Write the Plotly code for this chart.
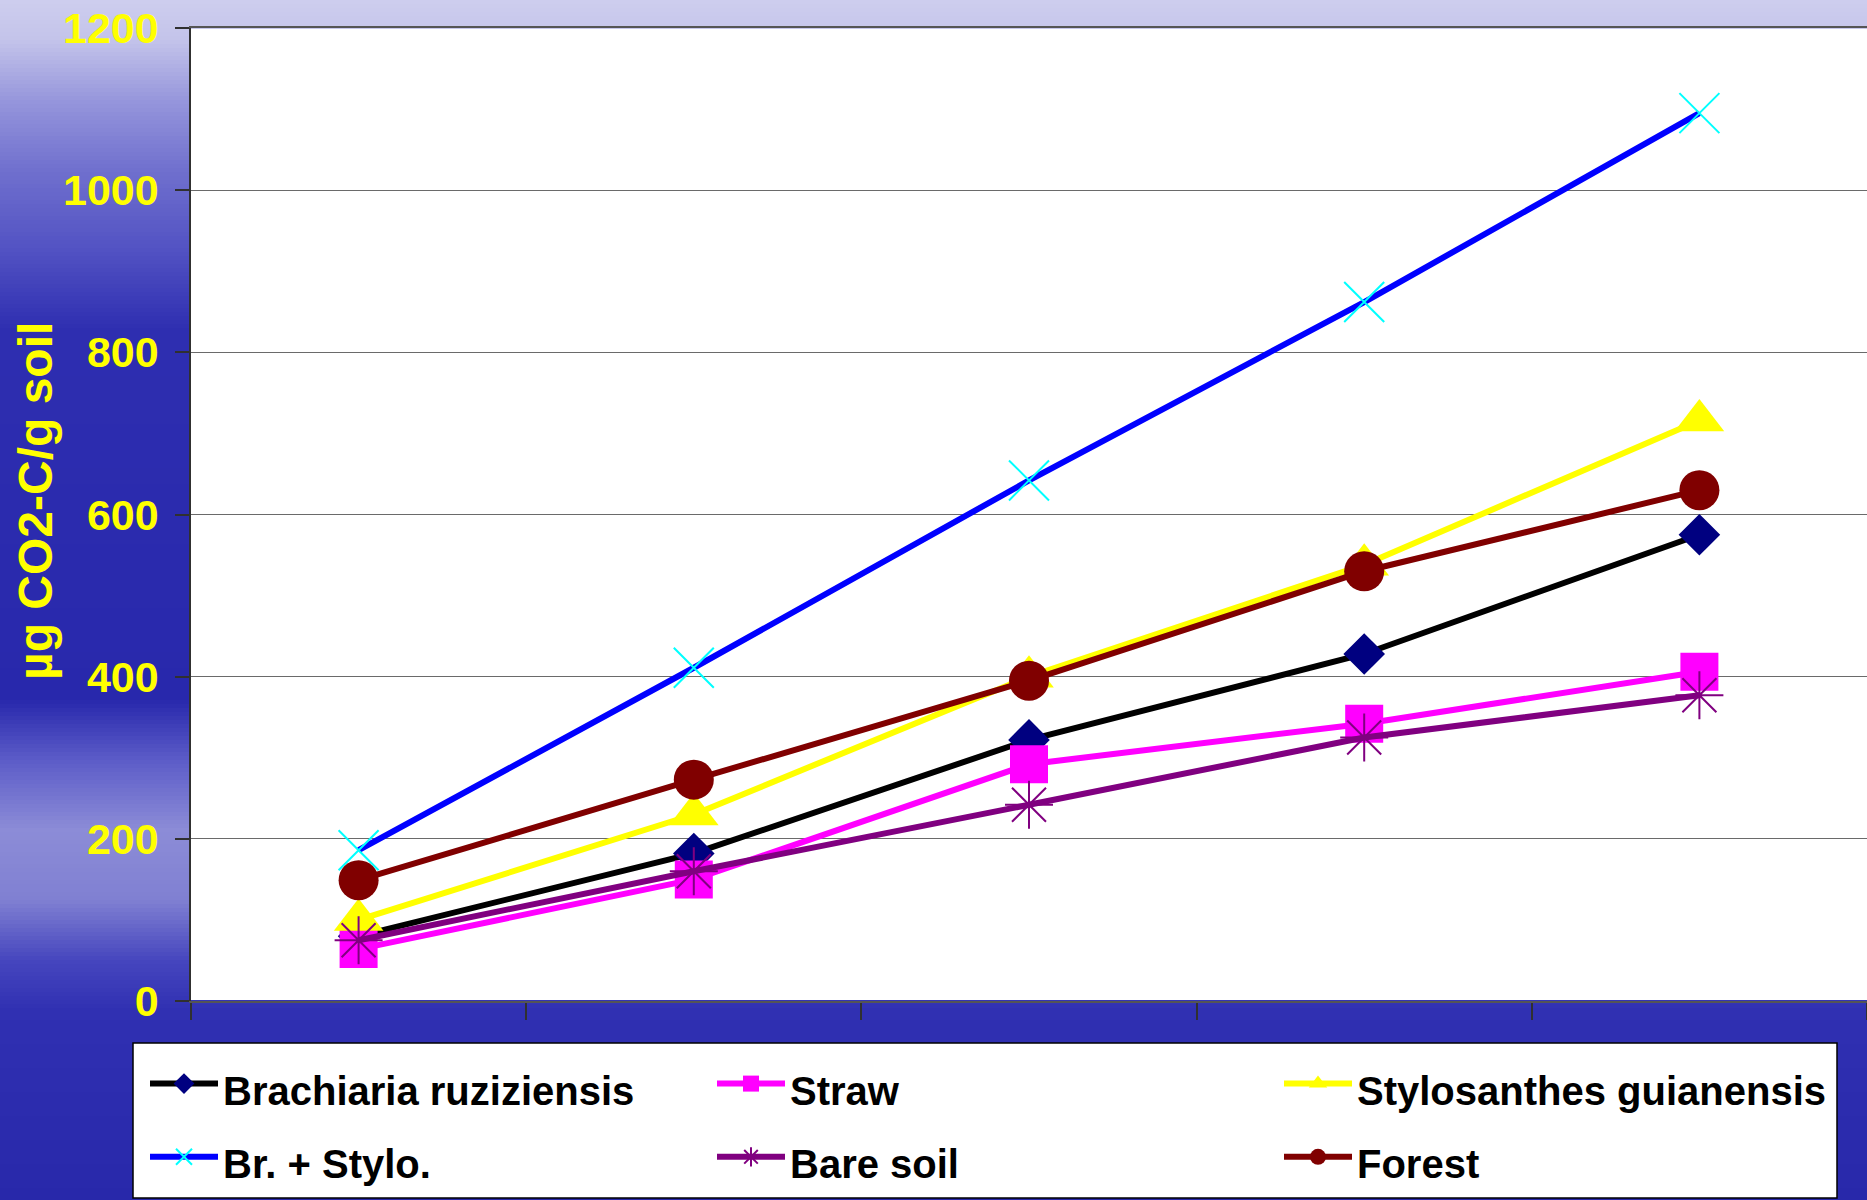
import plotly.graph_objects as go

# Sampling days (no x labels are shown on the original chart)
DAYS = ["1", "2", "3", "4", "5"]

BRACHIARIA = [80, 182, 322, 428, 575]
STRAW = [64, 150, 292, 342, 406]
STYLOSANTHES = [100, 230, 400, 538, 716]
BR_STYLO = [186, 411, 642, 862, 1095]
BARE_SOIL = [75, 160, 242, 325, 377]
FOREST = [149, 273, 395, 530, 630]

Y_TICKS = [0, 200, 400, 600, 800, 1000, 1200]
Y_TITLE = "µg CO2-C/g soil"

W, H = 1867, 1200
PLOT_L, PLOT_T, PLOT_B = 191, 28, 1001
PLOT_W, PLOT_H = W - PLOT_L, PLOT_B - PLOT_T

ARIAL = "Liberation Sans, Arial, sans-serif"
LEGEND_TEXT_PX = 40

# background gradient stops (pixel row, rgb)
BG_STOPS = [
    (0, (205, 205, 238)),
    (40, (196, 196, 234)),
    (100, (150, 150, 220)),
    (170, (112, 112, 206)),
    (250, (82, 82, 195)),
    (330, (46, 46, 176)),
    (700, (40, 40, 172)),
    (760, (92, 92, 200)),
    (830, (140, 140, 215)),
    (900, (128, 128, 210)),
    (960, (70, 70, 190)),
    (1010, (48, 48, 178)),
    (1200, (40, 40, 170)),
]


def px_x(x):
    return (x - PLOT_L) / PLOT_W


def px_y(y):
    return (PLOT_B - y) / PLOT_H


def bg_color(y):
    for (y0, c0), (y1, c1) in zip(BG_STOPS, BG_STOPS[1:]):
        if y0 <= y <= y1:
            t = (y - y0) / (y1 - y0)
            r, g, b = (round(a + (b_ - a) * t) for a, b_ in zip(c0, c1))
            return f"rgb({r},{g},{b})"
    return "rgb(40,40,170)"


def background_shapes():
    shapes = []
    step = 4
    for y in range(0, H, step):
        right = PLOT_L if PLOT_T <= y and y + step <= PLOT_B else W
        shapes.append(dict(
            type="rect", xref="paper", yref="paper", layer="below",
            x0=px_x(0), x1=px_x(right), y0=px_y(y + step + 1), y1=px_y(y),
            fillcolor=bg_color(y + step / 2), line=dict(width=0),
        ))
    # legend box
    shapes.append(dict(
        type="rect", xref="paper", yref="paper", layer="below",
        x0=px_x(133), x1=px_x(1837), y0=px_y(1198), y1=px_y(1043),
        fillcolor="white", line=dict(color="black", width=1.5),
    ))
    return shapes


SERIES = [
    ("Brachiaria ruziziensis", BRACHIARIA, "#000000",
     dict(symbol="diamond", size=32, color="#000080")),
    ("Straw", STRAW, "#ff00ff",
     dict(symbol="square", size=38, color="#ff00ff")),
    ("Stylosanthes guianensis", STYLOSANTHES, "#ffff00",
     dict(symbol="triangle-up", size=43, color="#ffff00")),
    ("Br. + Stylo.", BR_STYLO, "#0000ff",
     dict(symbol="x-thin-open", size=40, color="#00ffff", line=dict(color="#00ffff", width=2))),
    ("Bare soil", BARE_SOIL, "#800080",
     dict(symbol="asterisk-open", size=40, color="#800080", line=dict(color="#800080", width=2))),
    ("Forest", FOREST, "#800000",
     dict(symbol="circle", size=40, color="#800000")),
]

fig = go.Figure()
for name, values, line_color, marker in SERIES:
    fig.add_trace(go.Scatter(
        x=DAYS, y=values, mode="lines+markers",
        name=f'<span style="font-size:{LEGEND_TEXT_PX}px">{name}</span>',
        hovertemplate=f"{name}<br>%{{y}}<extra></extra>",
        line=dict(color=line_color, width=6),
        marker=marker, cliponaxis=False,
    ))

fig.add_annotation(
    text=Y_TITLE, xref="paper", yref="paper", x=px_x(35), y=px_y(501),
    textangle=-90, showarrow=False, xanchor="center", yanchor="middle",
    font=dict(family=ARIAL, size=48, color="#ffff00", weight="bold"),
)

fig.update_layout(
    width=W, height=H,
    margin=dict(l=PLOT_L, r=0, t=PLOT_T, b=H - PLOT_B, autoexpand=False),
    paper_bgcolor="rgb(40,40,172)",
    plot_bgcolor="white",
    shapes=background_shapes(),
    showlegend=True,
    legend=dict(
        orientation="h", x=px_x(145), y=px_y(1042), xanchor="left", yanchor="top",
        bgcolor="rgba(0,0,0,0)", borderwidth=0,
        font=dict(family=ARIAL, size=54, color="black", weight="bold"),
        itemwidth=68, entrywidth=484, traceorder="normal",
    ),
)
fig.update_xaxes(
    type="category", range=[-0.5, len(DAYS) - 0.5],
    showticklabels=False, tickson="boundaries",
    ticks="outside", ticklen=17, tickwidth=1.5, tickcolor="#303030",
    showline=True, linecolor="#555555", linewidth=2, mirror=True,
    showgrid=False, zeroline=False,
)
fig.update_yaxes(
    range=[0, 1200], tickvals=Y_TICKS, ticks="outside", ticklen=14,
    tickwidth=1.5, tickcolor="#303030", ticklabelstandoff=8,
    tickfont=dict(family=ARIAL, size=43, color="#ffff00", weight="bold"),
    showline=True, linecolor="#303030", linewidth=1.5,
    showgrid=True, gridcolor="#6a6a6a", gridwidth=1, zeroline=False,
)

fig.write_html(
    "out.html",
    config={"displayModeBar": False},
    post_script="document.body.style.margin='0';",
)
